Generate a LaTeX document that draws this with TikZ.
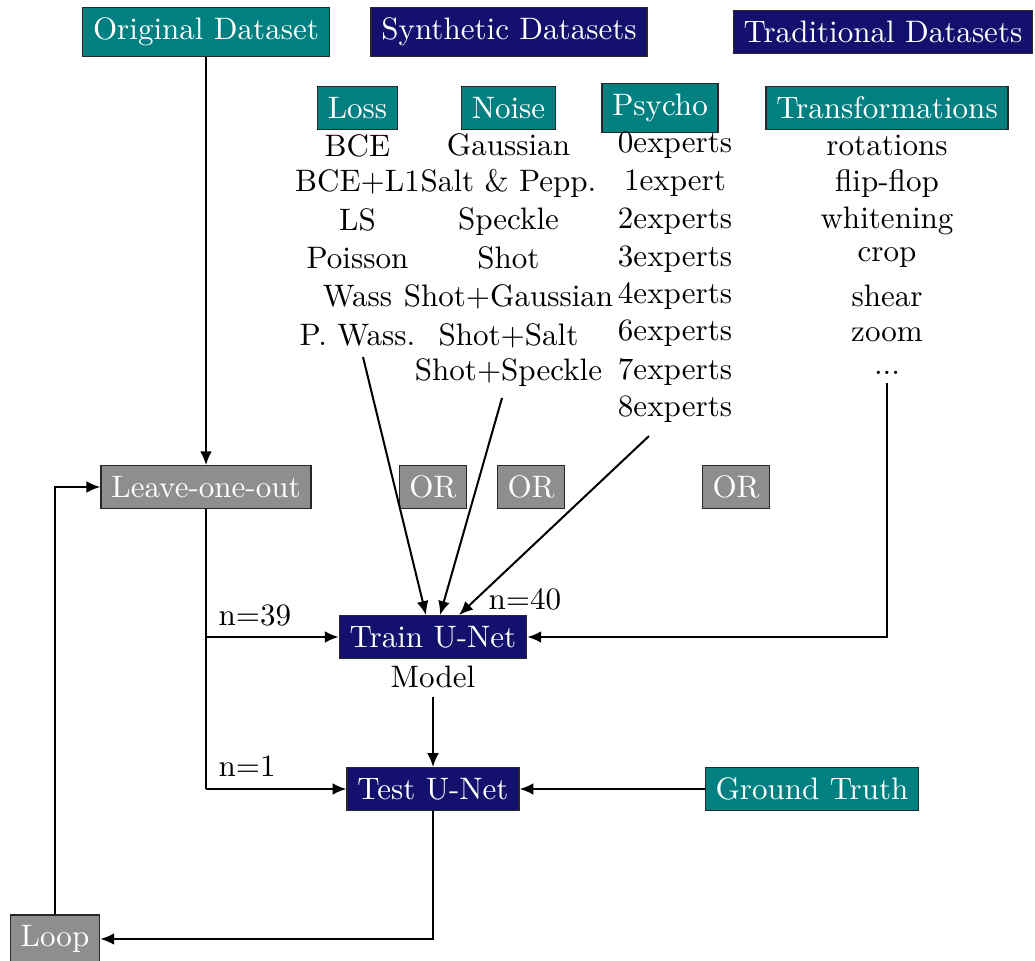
\documentclass[tikz,border=0pt]{standalone}
\usetikzlibrary{arrows.meta}
\definecolor{boxteal}{RGB}{0,128,128}
\definecolor{boxnavy}{RGB}{20,16,110}
\definecolor{boxgrey}{RGB}{142,142,142}
\definecolor{boxedge}{RGB}{40,40,40}
\tikzset{
  box/.style={draw=boxedge, line width=0.4pt, text=white, inner sep=3.333pt},
  tealbox/.style={box, fill=boxteal},
  navybox/.style={box, fill=boxnavy},
  greybox/.style={box, fill=boxgrey},
  item/.style={anchor=base, inner sep=0pt},
  lbl/.style={anchor=base west, inner sep=0pt},
  wire/.style={line width=0.65pt},
  conn/.style={wire, -{Latex[length=4.5pt,width=3.8pt]}},
}
\begin{document}
\begin{tikzpicture}[x=0.322pt,y=-0.322pt]
\useasboundingbox (0,0) rectangle (1035,961);

% top row
\node[tealbox] (orig) at (206,32) {Original Dataset};
\node[navybox] (synth) at (509,32) {Synthetic Datasets};
\node[navybox] (trad) at (883,32) {Traditional Datasets};

% second row
\node[tealbox] (loss) at (357.5,108) {Loss};
\node[tealbox] (noise) at (508.5,108) {Noise};
\node[tealbox] (psycho) at (660,108) {Psycho};
\node[tealbox] (transf) at (887,108) {Transformations};

% lists
\node[item] (l1) at (357.5,156.7) {BCE};
\node[item] (l2) at (357.5,191.7) {BCE+L1};
\node[item] (l3) at (357.5,231) {LS};
\node[item] (l4) at (357.5,269) {Poisson};
\node[item] (l5) at (357.5,306.7) {Wass};
\node[item] (l6) at (357.5,345) {P. Wass.};

\node[item] (n1) at (508.5,156) {Gaussian};
\node[item] (n2) at (508.5,191.7) {Salt \& Pepp.};
\node[item] (n3) at (508.5,230) {Speckle};
\node[item] (n4) at (508.5,269) {Shot};
\node[item] (n5) at (508.5,306.7) {Shot+Gaussian};
\node[item] (n6) at (508.5,345) {Shot+Salt};
\node[item] (n7) at (508.5,380) {Shot+Speckle};

\node[item] (p1) at (675,153) {0experts};
\node[item] (p2) at (675,190.7) {1expert};
\node[item] (p3) at (675,228.3) {2experts};
\node[item] (p4) at (675,266.7) {3experts};
\node[item] (p5) at (675,303) {4experts};
\node[item] (p6) at (675,341) {6experts};
\node[item] (p7) at (675,379) {7experts};
\node[item] (p8) at (675,416.7) {8experts};

\node[item] (t1) at (887,156) {rotations};
\node[item] (t2) at (887,191.7) {flip-flop};
\node[item] (t3) at (887,228.3) {whitening};
\node[item] (t4) at (887,261.7) {crop};
\node[item] (t5) at (887,306.7) {shear};
\node[item] (t6) at (887,341.7) {zoom};
\node[item] (t7) at (887,374.3) {...};

% third row
\node[greybox] (loo) at (206,487) {Leave-one-out};
\node[greybox] (or1) at (433,487) {OR};
\node[greybox] (or2) at (531,487) {OR};
\node[greybox] (or3) at (736,487) {OR};

\node[navybox] (train) at (433,637) {Train U-Net};
\node[item] (model) at (433,687) {Model};
\node[navybox] (test) at (433,789) {Test U-Net};
\node[tealbox] (gt) at (812,789) {Ground Truth};
\node[greybox] (loop) at (55,939) {Loop};

% labels
\node[lbl] (lab39) at (218,625) {n=39};
\node[lbl] (lab1) at (218,776.7) {n=1};
\node[lbl] (lab40) at (488,609) {n=40};

% free ends
\coordinate (lossend) at (363,357);
\coordinate (noiseend) at (502,398);
\coordinate (psyend) at (649,436);
\coordinate (trend) at (887,383);
\coordinate (modelend) at (433,697);
\coordinate (split39) at (206,637);
\coordinate (split1) at (206,789);

% connectors
\draw[conn] (orig.south) -- (loo.north);
\draw[wire] (loo.south) -- (split1);
\draw[conn] (split39) -- (train.west);
\draw[conn] (split1) -- (test.west);
\draw[conn] (lossend) -- (train.north -| 426,0);
\draw[conn] (noiseend) -- (train.north -| 440,0);
\draw[conn] (psyend) -- (train.north -| 459,0);
\draw[conn] (trend) |- (train.east);
\draw[conn] (modelend) -- (test.north);
\draw[conn] (gt.west) -- (test.east);
\draw[conn] (test.south) |- (loop.east);
\draw[conn] (loop.north) |- (loo.west);
\end{tikzpicture}
\end{document}
